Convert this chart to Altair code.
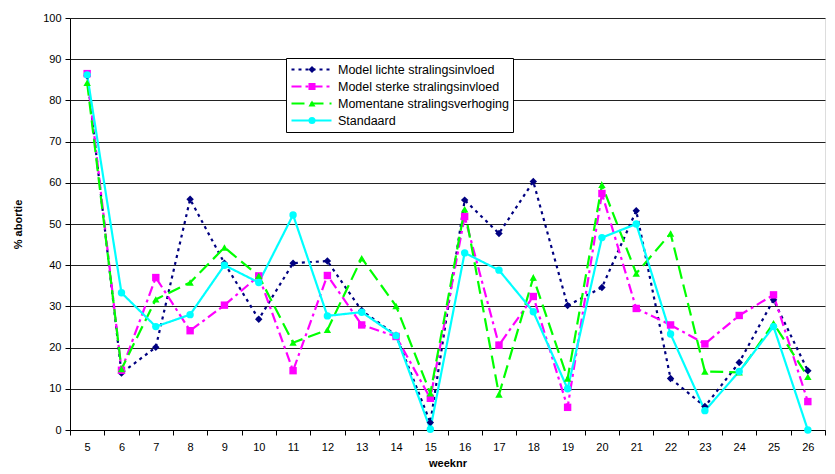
import altair as alt
import pandas as pd

weeks = list(range(5, 27))
series_names = [
    "Model lichte stralingsinvloed",
    "Model sterke stralingsinvloed",
    "Momentane stralingsverhoging",
    "Standaard",
]
lichte = [86.0, 13.8, 20.1, 56.0, 40.5, 26.9, 40.5, 41.0, 29.0, 23.0, 1.8,
          55.8, 47.7, 60.3, 30.2, 34.6, 53.2, 12.5, 5.7, 16.4, 31.6, 14.4]
sterke = [86.5, 14.5, 37.0, 24.1, 30.3, 37.4, 14.4, 37.5, 25.5, 22.7, 7.7,
          51.8, 20.6, 32.4, 5.5, 57.4, 29.5, 25.5, 20.9, 27.8, 32.8, 6.9]
momentane = [84.3, 14.8, 31.7, 35.8, 44.3, 37.4, 21.2, 24.3, 41.7, 30.1, 8.9,
             53.6, 8.6, 37.0, 12.5, 59.5, 38.0, 47.7, 14.2, 14.0, 25.9, 12.9]
standaard = [86.2, 33.3, 25.1, 28.0, 40.0, 35.8, 52.2, 27.7, 28.6, 22.9, 0.2,
             43.0, 38.8, 28.7, 10.0, 46.7, 50.0, 23.3, 4.7, 14.2, 25.1, 0.0]

values = [lichte, sterke, momentane, standaard]
rows = []
for order, (name, vals) in enumerate(zip(series_names, values)):
    for w, v in zip(weeks, vals):
        rows.append({"weeknr": w, "value": v, "series": name,
                     "marker": name, "order": order})
df = pd.DataFrame(rows)

colors = ["#000080", "#FF00FF", "#00FF00", "#00FFFF"]
dashes = [[3, 4], [10, 4, 3, 4], [13, 6], [1, 0]]
shapes = ["diamond", "square", "triangle-up", "circle"]
FONT = "Liberation Sans"

LEG_X = 216
LEG_Y = 40
LEG_PAD = 4

x_enc = alt.X(
    "weeknr:O",
    bandPosition=0.5,
    scale=alt.Scale(type="band", paddingInner=0, paddingOuter=0),
    axis=alt.Axis(
        title="weeknr", titleFontWeight="bold", titleFontSize=11, titleFont=FONT,
        titlePadding=5, labelAngle=0, labelFontSize=11, labelFont=FONT,
        labelColor="black", tickBand="extent", tickColor="black", tickSize=5,
        domainColor="black", labelPadding=6, grid=False,
    ),
)
y_enc = alt.Y(
    "value:Q",
    scale=alt.Scale(domain=[0, 100], nice=False),
    axis=alt.Axis(
        title="% abortie", titleFontWeight="bold", titleFontSize=11, titleFont=FONT,
        titlePadding=19, values=list(range(0, 101, 10)), labelFontSize=11,
        labelFont=FONT, labelColor="black", tickColor="black", tickSize=5,
        domainColor="black", gridColor="#222222", gridWidth=1, labelPadding=4,
    ),
)

lines = alt.Chart(df).mark_line(strokeWidth=2.2).encode(
    x=x_enc,
    y=y_enc,
    stroke=alt.Stroke(
        "series:N",
        scale=alt.Scale(domain=series_names, range=colors),
        legend=alt.Legend(
            title=None, orient="none", legendX=LEG_X, legendY=LEG_Y,
            symbolType="stroke", symbolSize=1600, symbolStrokeWidth=2.2,
            clipHeight=15, rowPadding=2, padding=LEG_PAD,
            labelFont=FONT, labelFontSize=12.5, labelColor="black",
            strokeColor="black", fillColor="white",
            labelOffset=5, labelLimit=300, zindex=0,
        ),
    ),
    strokeDash=alt.StrokeDash(
        "series:N",
        scale=alt.Scale(domain=series_names, range=dashes),
        legend=alt.Legend(title=None),
    ),
    detail="series:N",
    order="weeknr:O",
)

# marker scales use a data-derived domain (alphabetical = legend order),
# so their legend stays separate and is laid over the line legend
points = alt.Chart(df).mark_point(filled=True, opacity=1, size=55).encode(
    x=x_enc,
    y=y_enc,
    fill=alt.Fill(
        "marker:N",
        scale=alt.Scale(range=colors),
        legend=alt.Legend(
            title=None, orient="none", legendX=LEG_X, legendY=LEG_Y,
            symbolSize=50, clipHeight=15, rowPadding=2, padding=LEG_PAD,
            labelExpr="''", labelFontSize=11,
            symbolOffset=16.5, symbolStrokeWidth=0, zindex=1,
        ),
    ),
    shape=alt.Shape(
        "marker:N",
        scale=alt.Scale(range=shapes),
        legend=alt.Legend(title=None),
    ),
)

chart = alt.layer(lines, points).properties(
    width=755,
    height=412,
    padding={"left": 62, "top": 10, "right": 2, "bottom": 40},
    autosize=alt.AutoSizeParams(type="none"),
).configure_view(stroke=None).configure(font=FONT)

chart.save("out.html", embed_options={"renderer": "svg", "actions": False})
